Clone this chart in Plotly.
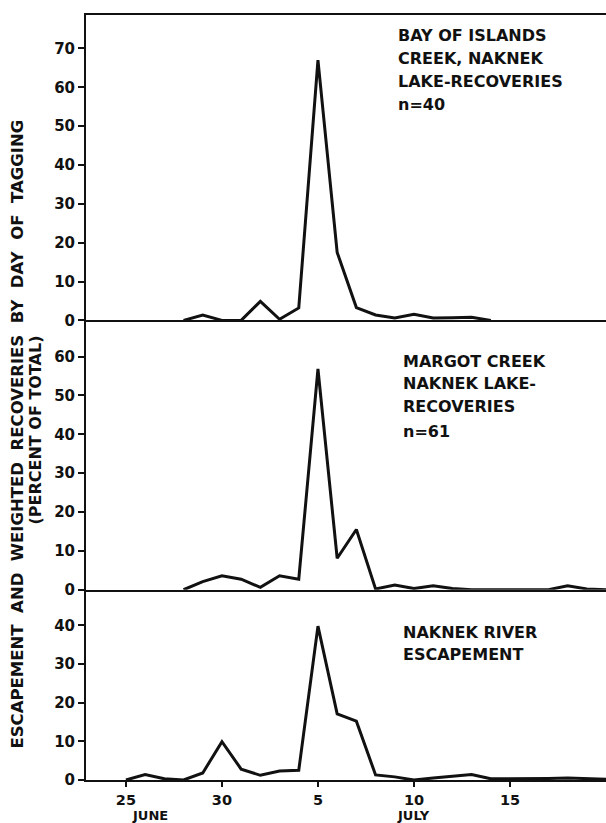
import plotly.graph_objects as go

# Day numbers relative to 30 June (June 25 = -5, July 5 = 5)
bay_days = [-2, -1, 0, 1, 2, 3, 4, 5, 6, 7, 8, 9, 10, 11, 12, 13, 14]
bay_pct = [0, 1.4, 0, 0, 4.9, 0.3, 3.2, 67, 17.5, 3.3, 1.4, 0.6, 1.6, 0.6, 0.7, 0.8, 0]

margot_days = [-2, -1, 0, 1, 2, 3, 4, 5, 6, 7, 8, 9, 10, 11, 12, 13, 17, 18, 19, 20]
margot_pct = [0, 2.1, 3.6, 2.7, 0.6, 3.6, 2.7, 56.8, 8.1, 15.5, 0.2, 1.2, 0.3, 1.0, 0.3, 0, 0, 1.0, 0.2, 0]

river_days = [-5, -4, -3, -2, -1, 0, 1, 2, 3, 4, 5, 6, 7, 8, 9, 10, 11, 12, 13, 14, 15, 16, 17, 18, 19, 20]
river_pct = [0, 1.4, 0.3, 0, 1.8, 9.9, 2.8, 1.2, 2.3, 2.5, 39.8, 17.1, 15.2, 1.3, 0.8, 0, 0.5, 0.9, 1.4, 0.3, 0.3, 0.3, 0.4, 0.5, 0.3, 0.2]

x_tickvals = [-5, 0, 5, 10, 15]
x_ticktext = ["25", "30", "5", "10", "15"]

bay_ticks = [0, 10, 20, 30, 40, 50, 60, 70]
margot_ticks = [0, 10, 20, 30, 40, 50, 60]
river_ticks = [0, 10, 20, 30, 40]

W, H = 606, 823
H_EFF = 813  # empirically the page is drawn slightly compressed vertically
FONT = "DejaVu Sans"
BLACK = "#111111"


def py(p):
    return 1 - p / H_EFF


def px(p):
    return p / W


xrange_ = [-7.08, 20.0]
x_left = 86

fig = go.Figure()
line = dict(color=BLACK, width=3)
fig.add_trace(go.Scatter(x=bay_days, y=bay_pct, mode="lines", line=line, xaxis="x", yaxis="y", showlegend=False))
fig.add_trace(go.Scatter(x=margot_days, y=margot_pct, mode="lines", line=line, xaxis="x2", yaxis="y2", showlegend=False))
fig.add_trace(go.Scatter(x=river_days, y=river_pct, mode="lines", line=line, xaxis="x3", yaxis="y3", showlegend=False))

tickfont = dict(family=FONT, size=15, color=BLACK, weight="bold")

common_x = dict(range=xrange_, showgrid=False, zeroline=False, showline=True,
                linecolor=BLACK, linewidth=2, fixedrange=True, domain=[px(x_left), 1.0])
common_y = dict(showgrid=False, zeroline=False, showline=True, linecolor=BLACK, linewidth=2,
                ticks="outside", ticklen=6, tickwidth=2, tickcolor=BLACK, tickfont=tickfont,
                fixedrange=True)

fig.update_layout(
    width=W, height=H,
    margin=dict(l=0, r=0, t=0, b=0),
    paper_bgcolor="white", plot_bgcolor="white",
    font=dict(family=FONT, color=BLACK),
    xaxis=dict(**common_x, anchor="y", mirror=True, showticklabels=False, ticks=""),
    xaxis2=dict(**common_x, anchor="y2", showticklabels=False, ticks=""),
    xaxis3=dict(**common_x, anchor="y3", tickvals=x_tickvals, ticktext=x_ticktext,
                ticks="outside", ticklen=5, tickwidth=2, tickcolor=BLACK,
                tickfont=dict(family=FONT, size=14.5, color=BLACK, weight="bold"),
                ticklabelstandoff=1),
    yaxis=dict(**common_y, anchor="x", domain=[py(320), py(15)], range=[0, 78.6], tickvals=bay_ticks),
    yaxis2=dict(**common_y, anchor="x2", domain=[py(589), py(320)], range=[0, 69.3], tickvals=margot_ticks),
    yaxis3=dict(**common_y, anchor="x3", domain=[py(779), py(589)], range=[0, 49.2], tickvals=river_ticks),
)

ann_font = dict(family=FONT, size=16, color=BLACK, weight="bold")
labels = [
    (396, 35.5, "BAY OF ISLANDS"),
    (396, 58.5, "CREEK, NAKNEK"),
    (396, 81.5, "LAKE-RECOVERIES"),
    (396, 104.5, "n=40"),
    (401, 361, "MARGOT CREEK"),
    (401, 383.5, "NAKNEK LAKE-"),
    (401, 406, "RECOVERIES"),
    (401, 430.5, "n=61"),
    (401, 631.5, "NAKNEK RIVER"),
    (401, 653.5, "ESCAPEMENT"),
]
for x, y, t in labels:
    fig.add_annotation(x=px(x), y=py(y), xref="paper", yref="paper", text=t, showarrow=False,
                       xanchor="left", yanchor="middle", font=ann_font)

# month labels
month_font = dict(family=FONT, size=13, color=BLACK, weight="bold")
fig.add_annotation(x=-3.75, y=py(814.5), xref="x3", yref="paper", text="JUNE", showarrow=False,
                   xanchor="center", yanchor="middle", borderpad=0, font=month_font)
fig.add_annotation(x=10, y=py(814.5), xref="x3", yref="paper", text="JULY", showarrow=False,
                   xanchor="center", yanchor="middle", borderpad=0, font=month_font)

# y-axis titles
fig.add_annotation(x=px(18), y=py(434), xref="paper", yref="paper",
                   text="ESCAPEMENT  AND  WEIGHTED  RECOVERIES  BY  DAY  OF  TAGGING",
                   textangle=-90, showarrow=False, xanchor="center", yanchor="middle",
                   font=dict(family=FONT, size=16.5, color=BLACK, weight="bold"))
fig.add_annotation(x=px(36), y=py(430), xref="paper", yref="paper",
                   text="(PERCENT OF TOTAL)",
                   textangle=-90, showarrow=False, xanchor="center", yanchor="middle",
                   font=dict(family=FONT, size=16, color=BLACK, weight="bold"))

fig.write_html("out.html")
